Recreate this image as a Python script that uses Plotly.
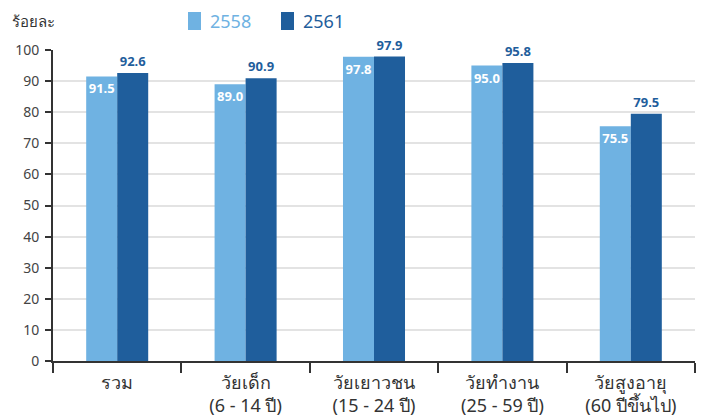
import plotly.graph_objects as go

categories = ["รวม", "วัยเด็ก<br>(6 - 14 ปี)", "วัยเยาวชน<br>(15 - 24 ปี)", "วัยทำงาน<br>(25 - 59 ปี)", "วัยสูงอายุ<br>(60 ปีขึ้นไป)"]
series_names = ["2558", "2561"]
values_2558 = [91.5, 89.0, 97.8, 95.0, 75.5]
values_2561 = [92.6, 90.9, 97.9, 95.8, 79.5]
y_ticks = [0, 10, 20, 30, 40, 50, 60, 70, 80, 90, 100]

LIGHT = "#6fb2e2"
DARK = "#1f5e9c"
FONT = "Noto Sans, DejaVu Sans, sans-serif"

fig = go.Figure()
fig.add_trace(go.Bar(
    x=categories, y=values_2558, name=series_names[0], marker_color=LIGHT,
    marker_line_width=0,
    text=[f"<b>{v:.1f}</b>" for v in values_2558], textposition="inside",
    insidetextanchor="end", textangle=0, constraintext="none",
    textfont=dict(color="white", size=13, family=FONT),
))
fig.add_trace(go.Bar(
    x=categories, y=values_2561, name=series_names[1], marker_color=DARK,
    marker_line_width=0,
    text=[f"<b>{v:.1f}</b>" for v in values_2561], textposition="outside",
    textangle=0, constraintext="none", cliponaxis=False,
    textfont=dict(color=DARK, size=13, family=FONT),
))

fig.update_layout(
    width=702, height=416,
    margin=dict(l=53, r=7, t=50, b=55, autoexpand=False),
    barmode="group", bargap=0.517, bargroupgap=0,
    plot_bgcolor="white", paper_bgcolor="white",
    showlegend=False,
    font=dict(family=FONT, color="#333333"),
    uniformtext=dict(minsize=13, mode="show"),
)
fig.update_yaxes(
    range=[0, 100], tickvals=y_ticks, showgrid=True, gridcolor="#e3e3e3", gridwidth=2,
    showline=True, linecolor="#333333", linewidth=2, ticks="outside", ticklen=6,
    tickcolor="#333333", tickwidth=2, tickfont=dict(size=14, color="#444444"),
    ticklabelstandoff=3, zeroline=False, automargin=False,
)
fig.update_xaxes(
    showline=True, linecolor="#333333", linewidth=2, ticks="outside",
    tickson="boundaries", ticklen=10, tickwidth=2, tickcolor="#333333",
    tickfont=dict(size=18, color="#333333"), ticklabelstandoff=4, automargin=False,
)

# legend drawn manually
for x0, color, label in [(188, LIGHT, series_names[0]), (281, DARK, series_names[1])]:
    fig.add_shape(type="rect", xref="paper", yref="paper",
                  x0=(x0 - 53) / 642, x1=(x0 + 13 - 53) / 642,
                  y0=(361 - 30) / 311, y1=(361 - 12) / 311,
                  fillcolor=color, line_width=0)
    fig.add_annotation(xref="paper", yref="paper", x=(x0 + 20 - 53) / 642, y=(361 - 21) / 311,
                       text=label, showarrow=False, xanchor="left", yanchor="middle",
                       font=dict(size=18, color=color, family=FONT))
fig.add_annotation(xref="paper", yref="paper", x=(10 - 53) / 642, y=(361 - 21) / 311,
                   text="ร้อยละ", showarrow=False, xanchor="left", yanchor="middle",
                   font=dict(size=15, color="#333333", family=FONT))

fig.write_html("out.html", config={"displayModeBar": False},
               post_script="document.body.style.margin='0';document.body.style.overflow='hidden';")
